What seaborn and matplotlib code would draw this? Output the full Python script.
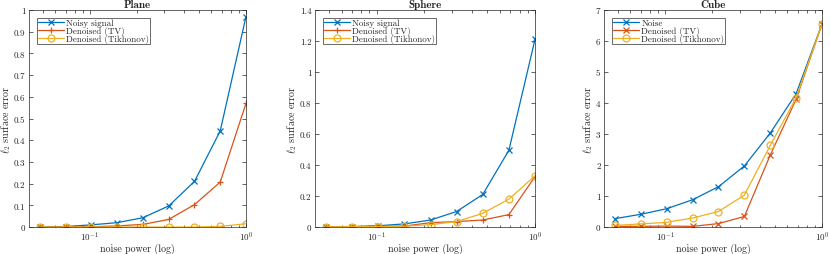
import numpy as np
import pandas as pd
import seaborn as sns
import matplotlib
matplotlib.use("Agg")
import matplotlib.pyplot as plt
from matplotlib.ticker import LogLocator, NullFormatter, MultipleLocator, FuncFormatter

# --- dati ---
noise_power = np.logspace(-1.32, 0, 9)

plane_noisy = [0.001, 0.002, 0.010, 0.020, 0.043, 0.097, 0.210, 0.443, 0.970]
plane_tv = [0.000, 0.000, 0.001, 0.005, 0.012, 0.035, 0.103, 0.207, 0.570]
plane_tik = [0.000, 0.000, 0.000, 0.000, 0.000, 0.000, 0.000, 0.003, 0.015]

sphere_noisy = [0.001, 0.003, 0.008, 0.020, 0.045, 0.100, 0.210, 0.495, 1.210]
sphere_tv = [0.001, 0.002, 0.004, 0.006, 0.028, 0.035, 0.045, 0.080, 0.325]
sphere_tik = [0.001, 0.002, 0.003, 0.005, 0.015, 0.035, 0.088, 0.180, 0.330]

cube_noisy = [0.27, 0.41, 0.59, 0.88, 1.30, 1.97, 3.03, 4.30, 6.55]
cube_tv = [0.02, 0.02, 0.03, 0.02, 0.11, 0.34, 2.32, 4.12, 6.55]
cube_tik = [0.05, 0.10, 0.15, 0.29, 0.50, 1.03, 2.63, 4.17, 6.55]

COLORS = ["#0072BD", "#D95319", "#EDB120"]

PANELS = [
    {"title": "Plane", "labels": ["Noisy signal", "Denoised (TV)", "Denoised (Tikhonov)"],
     "values": [plane_noisy, plane_tv, plane_tik], "markers": ["x", "+", "o"],
     "ymax": 1.0, "ystep": 0.1, "pos": [29, 246]},
    {"title": "Sphere", "labels": ["Noisy signal", "Denoised (TV)", "Denoised (Tikhonov)"],
     "values": [sphere_noisy, sphere_tv, sphere_tik], "markers": ["x", "+", "o"],
     "ymax": 1.4, "ystep": 0.2, "pos": [315, 535]},
    {"title": "Cube", "labels": ["Noise", "Denoised (TV)", "Denoised (Tikhonov)"],
     "values": [cube_noisy, cube_tv, cube_tik], "markers": ["x", "x", "o"],
     "ymax": 7, "ystep": 1, "pos": [604, 822]},
]

sns.set_style("ticks")
plt.rcParams['font.family'] = 'serif'
plt.rcParams['font.serif'] = ['cmr10', 'DejaVu Serif']
plt.rcParams['mathtext.fontset'] = 'cm'
plt.rcParams['axes.formatter.use_mathtext'] = True
plt.rcParams['axes.unicode_minus'] = False

W, H = 830, 255
TOP, BOTTOM = 11, 228
fig = plt.figure(figsize=(W / 100, H / 100), dpi=100)

for panel in PANELS:
    x0, x1 = panel["pos"]
    ax = fig.add_axes([x0 / W, 1 - BOTTOM / H, (x1 - x0) / W, (BOTTOM - TOP) / H])

    for vals, lab, mk, col in zip(panel["values"], panel["labels"], panel["markers"], COLORS):
        df = pd.DataFrame({"x": noise_power, "y": vals})
        sns.lineplot(data=df, x="x", y="y", ax=ax, color=col, marker=mk, label=lab,
                     linewidth=0.9, markersize=5, markeredgewidth=0.9,
                     markeredgecolor=col, markerfacecolor="none")

    ax.set_xscale("log")
    ax.set_xlim(10 ** -1.39, 1)
    ax.set_ylim(0, panel["ymax"])
    ax.yaxis.set_major_locator(MultipleLocator(panel["ystep"]))
    ax.yaxis.set_major_formatter(FuncFormatter(lambda v, p: f"{v:g}"))
    ax.xaxis.set_major_locator(LogLocator(base=10))
    ax.xaxis.set_minor_locator(LogLocator(base=10, subs=np.arange(2, 10)))
    ax.xaxis.set_minor_formatter(NullFormatter())

    ax.tick_params(which="both", direction="in", top=True, right=True,
                   labelsize=6.5, colors="#262626", width=0.5)
    ax.tick_params(axis="x", which="major", pad=2)
    ax.tick_params(axis="y", which="major", pad=2.5)
    ax.tick_params(which="major", length=3)
    ax.tick_params(which="minor", length=1.8)
    for spine in ax.spines.values():
        spine.set_visible(True)
        spine.set_edgecolor("#262626")
        spine.set_linewidth(0.5)

    ax.set_title(panel["title"], fontsize=8, fontweight="bold", family="cmb10", pad=2)
    ax.set_xlabel("noise power (log)", fontsize=7.2, labelpad=0)
    ax.set_ylabel(r"$\ell_2$ surface error", fontsize=7.2, labelpad=0.5)

    leg = ax.legend(loc="upper left", fontsize=6.5, frameon=True, fancybox=False,
                    borderaxespad=0.85, handlelength=2.9, borderpad=0.1,
                    labelspacing=-0.1, handletextpad=0.3)
    leg.get_frame().set_edgecolor("#262626")
    leg.get_frame().set_linewidth(0.6)

fig.savefig("out.png", dpi=100)
